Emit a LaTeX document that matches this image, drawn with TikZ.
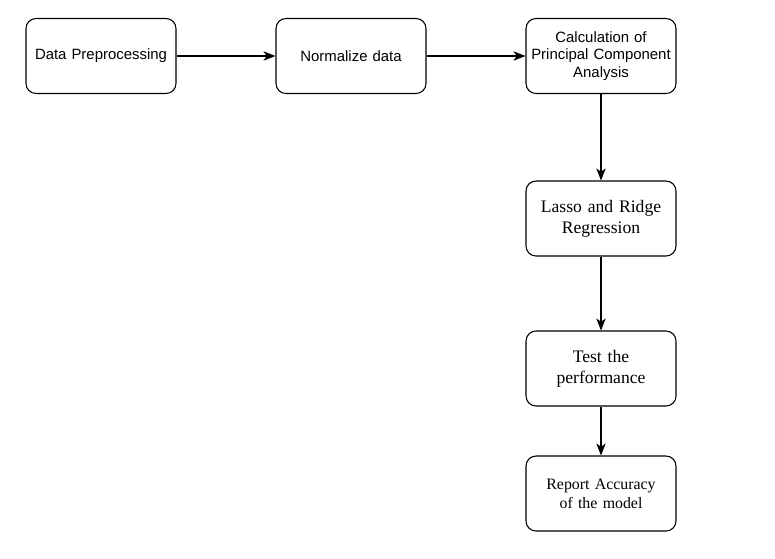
\documentclass[tikz,border=0pt]{standalone}
\usepackage{fontspec}
\setmainfont{Liberation Serif}
\newfontfamily\arialf{Liberation Sans}
\usetikzlibrary{arrows.meta}
\begin{document}
\begin{tikzpicture}[x=0.75pt,y=-0.75pt,
  box/.style={draw,line width=0.8pt,rounded corners=7.5pt,minimum width=112.5pt,minimum height=56.25pt,align=center,inner sep=2pt,text width=108pt},
  sansbox/.style={box,font=\arialf\fontsize{11.2pt}{13pt}\selectfont},
  bigserif/.style={box,font=\fontsize{13.2pt}{16pt}\selectfont},
  smallserif/.style={box,font=\fontsize{11.9pt}{14.3pt}\selectfont},
  conn/.style={draw,line width=0.8pt,-{Stealth[length=9pt,width=7pt,inset=2.5pt]}}]
\useasboundingbox (0,0) rectangle (775,558);
\fill[white] (0,0) rectangle (775,558);
\node[sansbox] (a) at (101,56) {Data Preprocessing};
\node[sansbox] (b) at (351,56) {Normalize data};
\node[sansbox] (c) at (601,56) {Calculation of\\Principal Component\\Analysis};
\node[bigserif] (d) at (601,218.5) {Lasso and Ridge\\Regression};
\node[bigserif] (e) at (601,368.5) {Test the\\performance};
\node[smallserif] (f) at (601,493.5) {Report Accuracy\\of the model};
\draw[conn] (a) -- (b);
\draw[conn] (b) -- (c);
\draw[conn] (c) -- (d);
\draw[conn] (d) -- (e);
\draw[conn] (e) -- (f);
\end{tikzpicture}
\end{document}
